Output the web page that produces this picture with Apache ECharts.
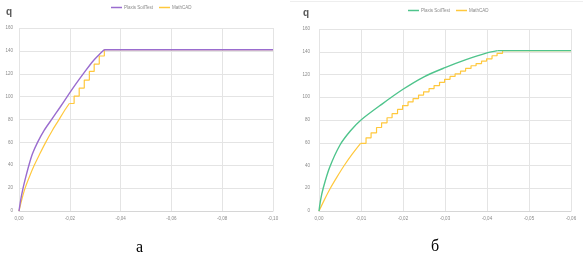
<!DOCTYPE html>
<html>
<head>
<meta charset="utf-8">
<script src="https://cdn.jsdelivr.net/npm/echarts@6/dist/echarts.min.js"></script>
<style>
  html, body { margin: 0; padding: 0; background: #fff; }
  #chart { width: 583px; height: 261px; }
</style>
</head>
<body>
<div id="chart"></div>
<script>
// ticks
const yTicks = [0, 20, 40, 60, 80, 100, 120, 140, 160]
const xTicksA = [0, -0.02, -0.04, -0.06, -0.08, -0.10]
const xTicksB = [0, -0.01, -0.02, -0.03, -0.04, -0.05, -0.06]

// chart "а"
const plaxisCurveA = [[0, 0], [-0.0007, 10], [-0.0016, 20], [-0.0027, 30], [-0.0039, 40], [-0.0053, 50], [-0.0073, 60],
  [-0.0099, 70.5], [-0.013, 80.5], [-0.0161, 90.5], [-0.0191, 100.5], [-0.0222, 110.5], [-0.0255, 120.5], [-0.0291, 131], [-0.0335, 141]]
const plaxisFlatA = [[-0.0335, 141], [-0.10, 141]]
const mathcadCurveA = [[0, 0], [-0.0011, 10], [-0.0024, 20], [-0.0041, 30], [-0.006, 40], [-0.0082, 50], [-0.0105, 60],
  [-0.013, 70], [-0.0155, 79], [-0.0177, 87], [-0.0198, 94]]
const mathcadStepsA = [[-0.0198, 94], [-0.0217, 100.5], [-0.0237, 107.5], [-0.0257, 114.5], [-0.0277, 122],
  [-0.0296, 128.5], [-0.0316, 135.5], [-0.0336, 141], [-0.10, 141]]

// chart "б"
const plaxisCurveB = [[0, 0], [-0.0004, 10], [-0.001, 20], [-0.0025, 38], [-0.005, 58], [-0.0075, 70.5], [-0.01, 80],
  [-0.015, 94], [-0.02, 107], [-0.025, 118], [-0.03, 126], [-0.035, 133], [-0.04, 139], [-0.0425, 141]]
const plaxisFlatB = [[-0.0425, 141], [-0.06, 141]]
const mathcadCurveB = [[0, 0], [-0.0013, 10], [-0.0027, 20], [-0.0043, 30], [-0.006, 40], [-0.0079, 50], [-0.0099, 59.5]]
const mathcadStepsB = [[-0.0099, 59.5], [-0.0112, 64.3], [-0.0124, 68.7], [-0.0137, 73.4], [-0.0149, 77.5], [-0.0162, 82],
  [-0.0174, 85.6], [-0.0187, 89.3], [-0.0199, 92.7], [-0.0212, 95.9], [-0.0224, 98.8], [-0.0237, 101.9], [-0.0249, 104.8],
  [-0.0262, 107.6], [-0.0274, 110.3], [-0.0287, 113.1], [-0.0299, 115.8], [-0.0312, 118.3], [-0.0324, 120.6],
  [-0.0337, 123], [-0.0349, 125.3], [-0.0362, 127.7], [-0.0374, 129.6], [-0.0387, 131.8], [-0.0399, 133.8],
  [-0.0412, 136.5], [-0.0424, 138.6], [-0.0437, 141], [-0.06, 141]]

const PURPLE = "#9a6ccf"
const GREEN = "#4fc48c"
const YELLOW = "#ffc83d"
const GRID = "#e4e4e4"
const LABEL = "#8a8a8a"
const FONT = "'Liberation Sans', Arial, sans-serif"
const SERIF = "16px 'Liberation Serif', 'DejaVu Serif', serif"

const fmtX = v => Math.abs(v) < 1e-9 ? "0,00" : v.toFixed(2).replace(".", ",")

function xAxisFor(gridIndex, ticks) {
  return {
    type: "value", gridIndex, inverse: true,
    min: Math.min(...ticks), max: 0, interval: Math.abs(ticks[1]),
    axisLine: { show: true, lineStyle: { color: "#d6d6d6" } },
    axisTick: { show: false },
    splitLine: { show: true, lineStyle: { color: GRID } },
    axisLabel: { formatter: fmtX, fontSize: 4.5, color: LABEL, margin: 5, fontFamily: FONT, showMinLabel: true, showMaxLabel: true }
  }
}

function yAxisFor(gridIndex, margin) {
  return {
    type: "value", gridIndex,
    min: yTicks[0], max: yTicks[yTicks.length - 1], interval: yTicks[1] - yTicks[0],
    axisLine: { show: false }, axisTick: { show: false },
    splitLine: { show: true, lineStyle: { color: GRID } },
    axisLabel: { fontSize: 4.5, color: LABEL, margin, fontFamily: FONT }
  }
}

function line(name, data, color, idx, extra) {
  return Object.assign({
    name, type: "line", data, xAxisIndex: idx, yAxisIndex: idx,
    showSymbol: false, symbol: "none", animation: false,
    lineStyle: { color, width: 1.4 }, itemStyle: { color }
  }, extra || {})
}

function legendFor(left, top, names) {
  return {
    left, top, padding: 0, data: names, icon: "rect", itemWidth: 11, itemHeight: 1.5, itemGap: 6,
    formatter: n => n.split("|")[0], selectedMode: false,
    textStyle: { fontSize: 4.5, color: LABEL, fontFamily: FONT, padding: [0, 0, 0, -3] }
  }
}

const chart = echarts.init(document.getElementById("chart"), null, { renderer: "canvas" })

chart.setOption({
  backgroundColor: "#fff",
  animation: false,
  grid: [
    { left: 19, top: 28, width: 254, height: 183 },
    { left: 319, top: 29, width: 252, height: 182 }
  ],
  xAxis: [xAxisFor(0, xTicksA), xAxisFor(1, xTicksB)],
  yAxis: [yAxisFor(0, 6), yAxisFor(1, 9)],
  legend: [
    legendFor(111, 5, ["Plaxis SoilTest|a", "MathCAD|a"]),
    legendFor(408, 8, ["Plaxis SoilTest|b", "MathCAD|b"])
  ],
  series: [
    line("MathCAD|a", mathcadCurveA, YELLOW, 0, { smooth: 0.3, lineStyle: { color: YELLOW, width: 1.2 } }),
    line("MathCAD|a", mathcadStepsA, YELLOW, 0, { step: "end", lineStyle: { color: YELLOW, width: 1.2 } }),
    line("Plaxis SoilTest|a", plaxisCurveA, PURPLE, 0, { smooth: 0.3 }),
    line("Plaxis SoilTest|a", plaxisFlatA, PURPLE, 0),
    line("MathCAD|b", mathcadCurveB, YELLOW, 1, { smooth: 0.3, lineStyle: { color: YELLOW, width: 1.2 } }),
    line("MathCAD|b", mathcadStepsB, YELLOW, 1, { step: "end", lineStyle: { color: YELLOW, width: 1.2 } }),
    line("Plaxis SoilTest|b", plaxisCurveB, GREEN, 1, { smooth: 0.3 }),
    line("Plaxis SoilTest|b", plaxisFlatB, GREEN, 1)
  ],
  graphic: [
    { type: "line", shape: { x1: 290, y1: 1.5, x2: 583, y2: 1.5 }, style: { stroke: "#eeeeee", lineWidth: 1 } },
    { type: "text", left: 6, top: 7, style: { text: "q", font: "bold 10px " + FONT, fill: "#595959" } },
    { type: "text", left: 303, top: 8, style: { text: "q", font: "bold 10px " + FONT, fill: "#595959" } },
    { type: "text", left: 136, top: 240, style: { text: "а", font: SERIF, fill: "#000" } },
    { type: "text", left: 431, top: 239, style: { text: "б", font: SERIF, fill: "#000" } }
  ]
})
</script>
</body>
</html>
